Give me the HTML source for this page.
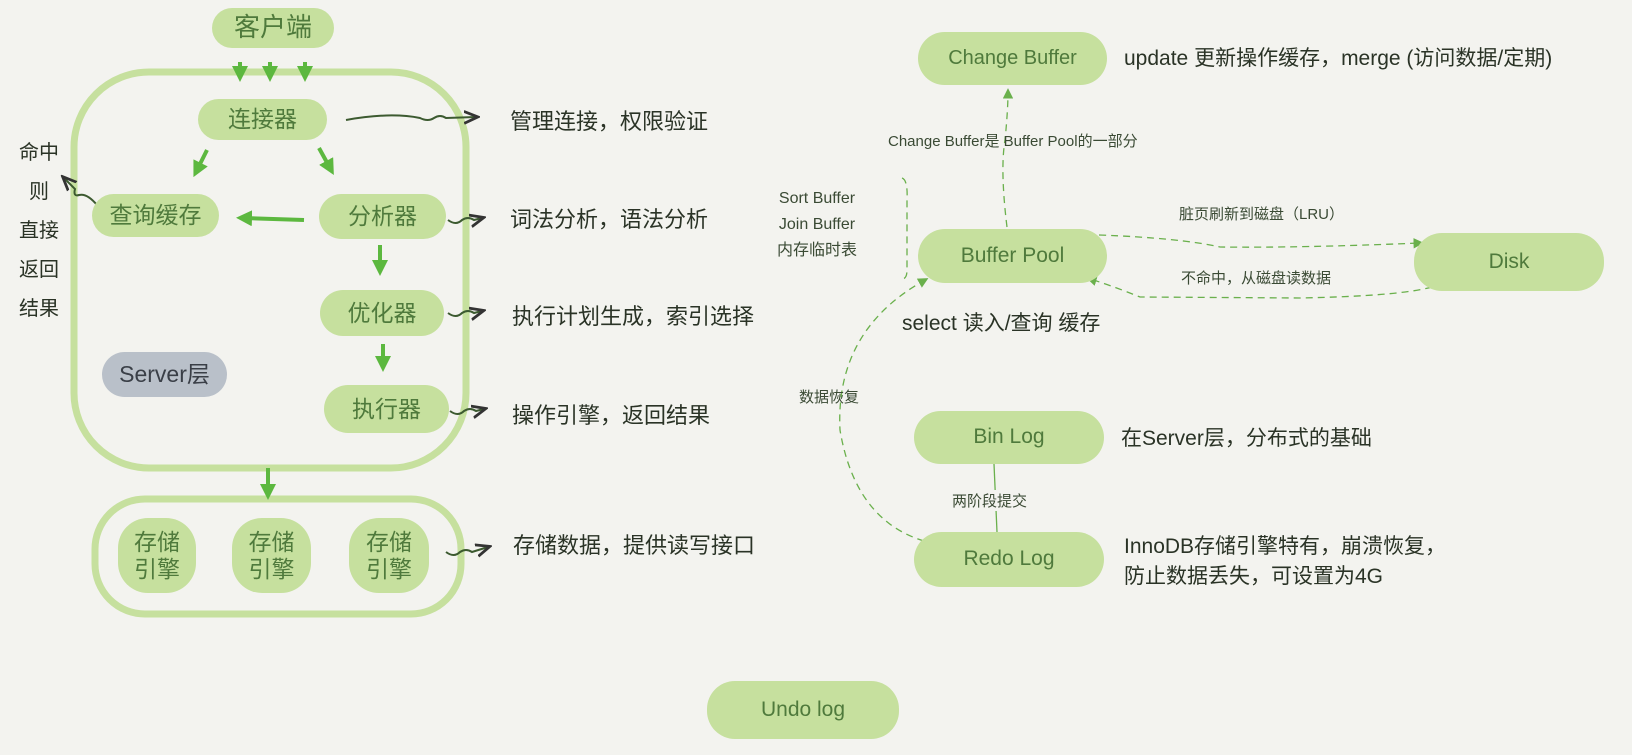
<!DOCTYPE html>
<html><head><meta charset="utf-8"><style>
body{margin:0;width:1632px;height:755px;background:#f3f3ef;position:relative;overflow:hidden;font-family:"Liberation Sans","Noto Sans CJK SC",sans-serif}
.p{position:absolute;background:#c6e09e;border-radius:28px;display:flex;align-items:center;justify-content:center;color:#4f7a3c;font-size:23px;text-align:center;line-height:1.15}
.t{position:absolute;color:#2a3326;font-size:22px;white-space:nowrap}
.s{position:absolute;color:#3a4a34;font-size:15px;white-space:nowrap}
</style></head><body>
<svg width="1632" height="755" style="position:absolute;left:0;top:0">
<defs>
<marker id="g" markerWidth="4" markerHeight="4" refX="2" refY="2" orient="auto"><path d="M0,0L4,2L0,4z" fill="#5cb83f"/></marker>
<marker id="d" markerWidth="8" markerHeight="8" refX="6" refY="4" orient="auto"><path d="M0,1L7,4L0,7" fill="none" stroke="#333" stroke-width="1.4"/></marker>
<marker id="dg" markerWidth="8" markerHeight="8" refX="5" refY="4" orient="auto"><path d="M0,0L8,4L0,8z" fill="#6ab04c"/></marker>
</defs>
<rect x="74" y="72" width="392" height="396" rx="75" fill="none" stroke="#c6e09e" stroke-width="7"/>
<rect x="95" y="499" width="366" height="115" rx="50" fill="none" stroke="#c6e09e" stroke-width="7"/>
<g stroke="#5cb83f" stroke-width="4" fill="none" marker-end="url(#g)">
<line x1="240" y1="62" x2="240" y2="74"/><line x1="270" y1="62" x2="270" y2="74"/><line x1="305" y1="62" x2="305" y2="74"/>
<line x1="207" y1="150" x2="197" y2="170"/><line x1="319" y1="148" x2="330" y2="168"/>
<line x1="304" y1="220" x2="244" y2="218"/>
<line x1="380" y1="245" x2="380" y2="268"/><line x1="383" y1="344" x2="383" y2="364"/>
<line x1="268" y1="468" x2="268" y2="492"/>
</g>
<g stroke="#3c5a30" stroke-width="2" fill="none" marker-end="url(#d)">
<path d="M346,120 Q390,112 420,118 q8,4 14,0 q6,-4 12,0 L476,117"/>
<path d="M448,220 q8,6 14,0 q6,-4 12,0 L482,218"/>
<path d="M448,313 q8,6 14,0 q6,-4 12,0 L482,311"/>
<path d="M450,411 q8,6 14,0 q6,-4 12,0 L484,409"/>
<path d="M446,552 q8,6 14,0 q6,-4 12,0 L488,547"/>
<path d="M97,205 q-10,-12 -18,-10 q-6,2 -4,-6 L64,178"/>
</g>
<g stroke="#6ab04c" stroke-width="1.3" fill="none" stroke-dasharray="7,5">
<path d="M1007,227 Q1000,170 1005,140 Q1008,110 1008,92" marker-end="url(#dg)"/>
<path d="M1099,235 Q1180,238 1220,247 Q1300,248 1420,243" marker-end="url(#dg)"/>
<path d="M1432,287 Q1400,296 1300,298 L1140,297 Q1110,285 1090,279" marker-end="url(#dg)"/>
<path d="M924,541 Q855,520 840,430 Q835,330 925,280" marker-end="url(#dg)"/>
<path d="M902,178 Q908,180 907,200 L907,270 Q907,279 902,279"/>
</g>
<line x1="994" y1="464" x2="997" y2="532" stroke="#6ab04c" stroke-width="1.3"/>
</svg>
<div class="p" style="left:212px;top:8px;width:122px;height:40px;font-size:26px;border-radius:20px">客户端</div>
<div class="p" style="left:198px;top:99px;width:129px;height:41px;border-radius:21px">连接器</div>
<div class="p" style="left:92px;top:194px;width:127px;height:43px;border-radius:22px">查询缓存</div>
<div class="p" style="left:319px;top:194px;width:127px;height:45px;border-radius:23px">分析器</div>
<div class="p" style="left:320px;top:290px;width:124px;height:46px;border-radius:23px">优化器</div>
<div class="p" style="left:324px;top:385px;width:125px;height:48px;border-radius:24px">执行器</div>
<div class="p" style="left:102px;top:352px;width:125px;height:45px;background:#b9c0c9;color:#3a3f47;border-radius:23px">Server层</div>
<div class="p" style="left:118px;top:518px;width:78px;height:75px;border-radius:30px">存储<br>引擎</div>
<div class="p" style="left:232px;top:518px;width:79px;height:75px;border-radius:30px">存储<br>引擎</div>
<div class="p" style="left:349px;top:518px;width:80px;height:75px;border-radius:30px">存储<br>引擎</div>
<div class="t" style="left:16px;top:134px;font-size:20px;line-height:39px;white-space:normal;width:46px;text-align:center">命中<br>则<br>直接<br>返回<br>结果</div>
<div class="t" style="left:510px;top:104px">管理连接，权限验证</div>
<div class="t" style="left:510px;top:202px">词法分析，语法分析</div>
<div class="t" style="left:512px;top:299px">执行计划生成，索引选择</div>
<div class="t" style="left:512px;top:398px">操作引擎，返回结果</div>
<div class="t" style="left:513px;top:528px">存储数据，提供读写接口</div>

<div class="p" style="left:918px;top:32px;width:189px;height:53px;font-size:20px">Change Buffer</div>
<div class="t" style="left:1124px;top:42px;font-size:21px">update 更新操作缓存，merge (访问数据/定期)</div>
<div class="s" style="left:888px;top:130px">Change Buffer是 Buffer Pool的一部分</div>
<div class="s" style="left:777px;top:186px;line-height:26px;font-size:16px;text-align:center">Sort Buffer<br>Join Buffer<br>内存临时表</div>
<div class="p" style="left:918px;top:229px;width:189px;height:54px;font-size:21px">Buffer Pool</div>
<div class="p" style="left:1414px;top:233px;width:190px;height:58px;font-size:21px">Disk</div>
<div class="s" style="left:1179px;top:203px">脏页刷新到磁盘（LRU）</div>
<div class="s" style="left:1181px;top:267px">不命中，从磁盘读数据</div>
<div class="t" style="left:902px;top:307px;font-size:21px">select 读入/查询 缓存</div>
<div class="s" style="left:799px;top:386px">数据恢复</div>
<div class="p" style="left:914px;top:411px;width:190px;height:53px;font-size:21px">Bin Log</div>
<div class="t" style="left:1121px;top:422px;font-size:21px">在Server层，分布式的基础</div>
<div class="s" style="left:952px;top:490px;background:#f3f3ef">两阶段提交</div>
<div class="p" style="left:914px;top:532px;width:190px;height:55px;font-size:21px">Redo Log</div>
<div class="t" style="left:1124px;top:532px;font-size:21px;line-height:30px">InnoDB存储引擎特有，崩溃恢复，<br>防止数据丢失，可设置为4G</div>
<div class="p" style="left:707px;top:681px;width:192px;height:58px;font-size:21px">Undo log</div>
</body></html>
